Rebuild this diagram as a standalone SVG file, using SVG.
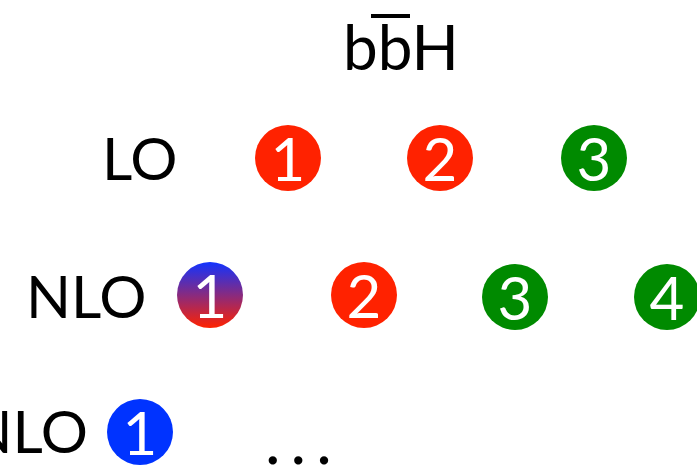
<svg xmlns="http://www.w3.org/2000/svg" width="697" height="472" viewBox="0 0 697 472">
<style>
.lbl{font-family:Lato,"Open Sans","Liberation Sans",sans-serif;font-size:59px;fill:#000}
.num{font-family:Lato,"Open Sans","Liberation Sans",sans-serif;font-size:60px;fill:#fff;text-anchor:middle}
.red{fill:#ff2200}
.green{fill:#008a00}
.blue{fill:#0033ff}
</style>
<defs>
<linearGradient id="br" x1="0" y1="0" x2="0" y2="1">
<stop offset="0" stop-color="#1133ff"/>
<stop offset="1" stop-color="#ff2200"/>
</linearGradient>
</defs>
<g id="title">
<text class="lbl" x="343" y="70" style="font-size:62px">bbH</text>
<rect x="371" y="14" width="39" height="4" fill="#000"/>
</g>
<g id="row-lo">
<text class="lbl" x="102" y="180">LO</text>
</g>
<g id="lo-1"><circle class="red" cx="288" cy="158" r="33"/><text class="num" x="288" y="181">1</text></g>
<g id="lo-2"><circle class="red" cx="440" cy="158" r="33"/><text class="num" x="440" y="181">2</text></g>
<g id="lo-3"><circle class="green" cx="594" cy="158" r="33"/><text class="num" x="594" y="181">3</text></g>
<g id="row-nlo">
<text class="lbl" x="26" y="318">NLO</text>
</g>
<g id="nlo-1"><circle cx="210" cy="295" r="33" fill="url(#br)"/><text class="num" x="210" y="318">1</text></g>
<g id="nlo-2"><circle class="red" cx="364" cy="295" r="33"/><text class="num" x="364" y="318">2</text></g>
<g id="nlo-3"><circle class="green" cx="515" cy="297" r="33"/><text class="num" x="515" y="320">3</text></g>
<g id="nlo-4"><circle class="green" cx="667" cy="297" r="33"/><text class="num" x="667" y="320">4</text></g>
<g id="row-nnlo">
<text class="lbl" x="88" y="453" text-anchor="end">NNLO</text>
</g>
<g id="nnlo-1"><circle class="blue" cx="140" cy="432" r="33"/><text class="num" x="140" y="455">1</text></g>
<g id="dots">
<text class="lbl" x="265" y="464" style="font-size:66px;letter-spacing:10px">...</text>
</g>
<g id="connectors"/>
</svg>
